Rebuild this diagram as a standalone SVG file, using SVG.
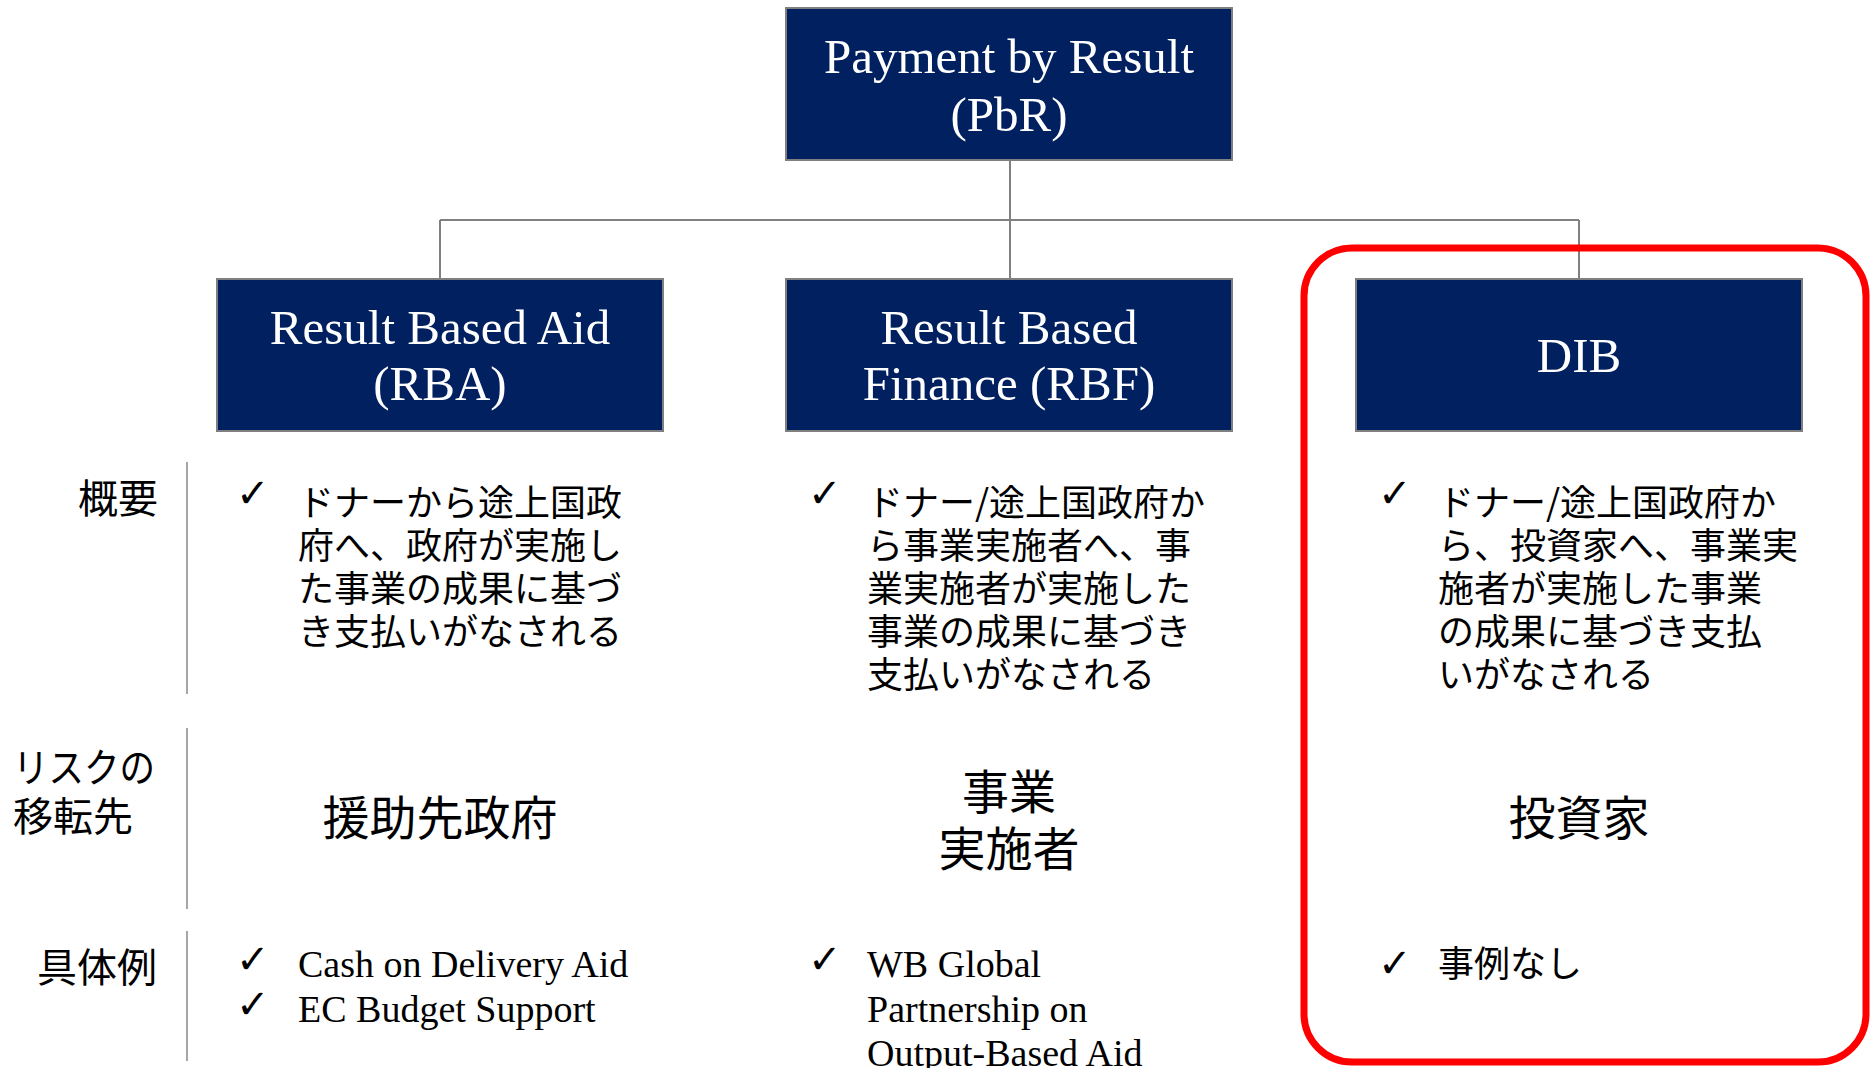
<svg xmlns="http://www.w3.org/2000/svg" width="1871" height="1068" viewBox="0 0 1871 1068">
<style>
.box{fill:#002060;stroke:#7f7f7f;stroke-width:2}
.ttl{font-family:"Liberation Serif",serif;font-size:49px;fill:#ffffff;text-anchor:middle}
.conn{stroke:#808080;stroke-width:2;fill:none}
.sep{stroke:#a6a6a6;stroke-width:2}
.lbl{font-family:"Noto Sans CJK JP",sans-serif;font-size:40px;fill:#000}
.jp{font-family:"Noto Sans CJK JP",sans-serif;font-size:36px;fill:#000}
.big{font-family:"Noto Sans CJK JP",sans-serif;font-size:47px;fill:#000;text-anchor:middle}
.en{font-family:"Liberation Serif",serif;font-size:38px;fill:#000}
.chk{font-family:"DejaVu Sans",sans-serif;font-size:40px;fill:#000}
</style>
<rect width="1871" height="1068" fill="#ffffff"/>
<g id="connectors">
<path class="conn" d="M1010,161 V279 M440,220 H1579 M440,220 V279 M1579,220 V279"/>
</g>
<g id="pbr">
<rect class="box" x="786" y="8" width="446" height="152"/>
<text class="ttl" x="1009" y="73">Payment by Result<tspan x="1009" dy="58">(PbR)</tspan></text>
</g>
<g id="rba">
<rect class="box" x="217" y="279" width="446" height="152"/>
<text class="ttl" x="440" y="344">Result Based Aid<tspan x="440" dy="56">(RBA)</tspan></text>
</g>
<g id="rbf">
<rect class="box" x="786" y="279" width="446" height="152"/>
<text class="ttl" x="1009" y="344">Result Based<tspan x="1009" dy="56">Finance (RBF)</tspan></text>
</g>
<g id="dib">
<rect class="box" x="1356" y="279" width="446" height="152"/>
<text class="ttl" x="1579" y="372">DIB</text>
</g>
<g id="highlight">
<rect x="1304" y="248" width="562" height="814" rx="48" ry="48" fill="none" stroke="#ff0000" stroke-width="7"/>
</g>
<g id="row-labels">
<line class="sep" x1="187" y1="462" x2="187" y2="694"/>
<line class="sep" x1="187" y1="728" x2="187" y2="909"/>
<line class="sep" x1="187" y1="931" x2="187" y2="1061"/>
<text class="lbl" x="158" y="513" text-anchor="end">概要</text>
<text class="lbl" x="13" y="782"><tspan textLength="142" lengthAdjust="spacingAndGlyphs">リスクの</tspan><tspan x="13" dy="49">移転先</tspan></text>
<text class="lbl" x="157" y="982" text-anchor="end">具体例</text>
</g>
<g id="rba-summary">
<text class="chk" x="236" y="507">✓</text>
<text class="jp" x="298" y="516">ドナーから途上国政<tspan x="298" dy="43">府へ、政府が実施し</tspan><tspan x="298" dy="43">た事業の成果に基づ</tspan><tspan x="298" dy="43">き支払いがなされる</tspan></text>
</g>
<g id="rbf-summary">
<text class="chk" x="808" y="507">✓</text>
<text class="jp" x="867" y="516">ドナー/途上国政府か<tspan x="867" dy="43">ら事業実施者へ、事</tspan><tspan x="867" dy="43">業実施者が実施した</tspan><tspan x="867" dy="43">事業の成果に基づき</tspan><tspan x="867" dy="43">支払いがなされる</tspan></text>
</g>
<g id="dib-summary">
<text class="chk" x="1378" y="507">✓</text>
<text class="jp" x="1438" y="516">ドナー/途上国政府か<tspan x="1438" dy="43">ら、投資家へ、事業実</tspan><tspan x="1438" dy="43">施者が実施した事業</tspan><tspan x="1438" dy="43">の成果に基づき支払</tspan><tspan x="1438" dy="43">いがなされる</tspan></text>
</g>
<g id="risk">
<text class="big" x="440" y="835">援助先政府</text>
<text class="big" x="1009" y="809">事業<tspan x="1009" dy="57">実施者</tspan></text>
<text class="big" x="1579" y="835">投資家</text>
</g>
<g id="examples">
<text class="chk" x="236" y="973">✓</text>
<text class="en" x="298" y="977">Cash on Delivery Aid</text>
<text class="chk" x="236" y="1018">✓</text>
<text class="en" x="298" y="1022">EC Budget Support</text>
<text class="chk" x="808" y="973">✓</text>
<text class="en" x="867" y="977">WB Global<tspan x="867" dy="45">Partnership on</tspan><tspan x="867" dy="44">Output-Based Aid</tspan></text>
<text class="chk" x="1378" y="977">✓</text>
<text class="jp" x="1438" y="977">事例なし</text>
</g>
</svg>
